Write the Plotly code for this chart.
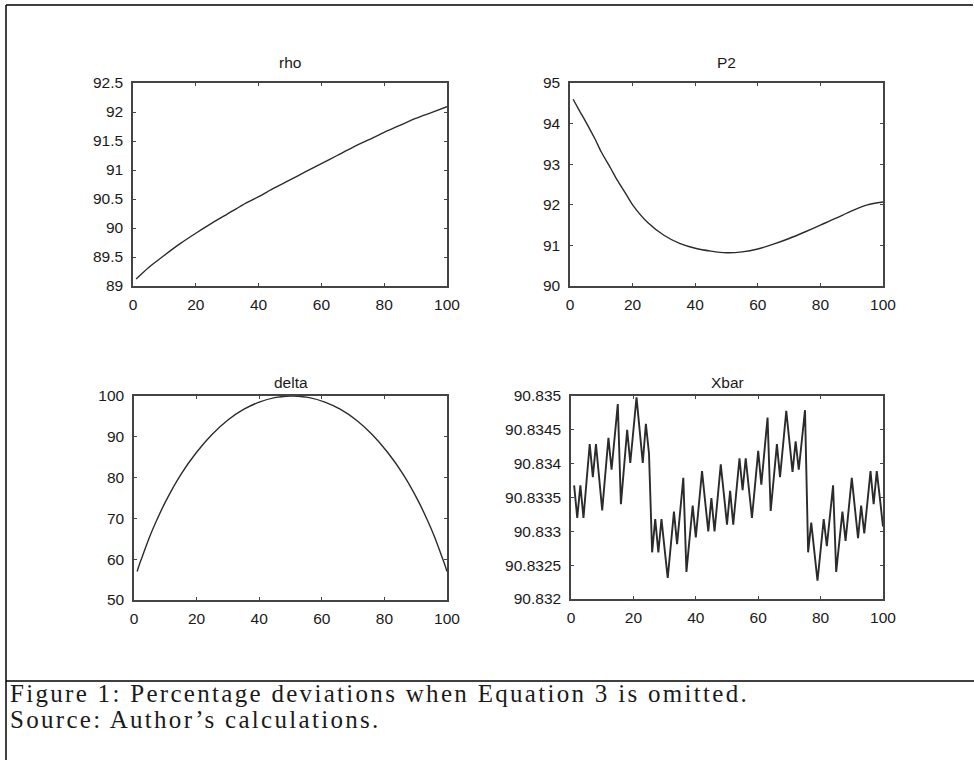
import plotly.graph_objects as go

W, H = 974, 760

# ---------------- data ----------------
rho_t = [1, 5, 10, 15, 20, 25, 30, 35, 40, 45, 50, 55, 60, 65, 70, 75, 80, 85, 90, 95, 100]
rho_v = [89.12, 89.32, 89.53, 89.73, 89.91, 90.08, 90.24, 90.40, 90.54, 90.69, 90.83,
         90.97, 91.11, 91.25, 91.39, 91.52, 91.65, 91.77, 91.89, 91.99, 92.09]

p2_t = [1, 3, 5, 8, 10, 13, 15, 18, 20, 25, 30, 35, 40, 45, 50, 55, 60, 65, 70, 75, 80, 85, 90, 95, 100]
p2_v = [94.60, 94.32, 94.05, 93.62, 93.30, 92.90, 92.62, 92.25, 92.00, 91.55, 91.25, 91.05,
        90.93, 90.86, 90.82, 90.84, 90.91, 91.03, 91.17, 91.33, 91.50, 91.67, 91.85, 92.00, 92.07]

delta_t = [1, 2, 3, 5, 7, 10, 15, 20, 25, 30, 35, 40, 45, 50, 51, 56, 61, 66, 71, 76, 81, 86,
           91, 94, 96, 98, 99, 100]
delta_v = [57.0, 59.3, 61.4, 65.5, 69.1, 74.0, 80.8, 86.2, 90.6, 94.1, 96.7, 98.5, 99.6, 100.0,
           100.0, 99.6, 98.5, 96.7, 94.1, 90.6, 86.2, 80.8, 74.0, 69.1, 65.5, 61.4, 59.3, 57.0]

xbar_t = list(range(1, 101))
xbar_v = [90.83368, 90.83320, 90.83368, 90.83320, 90.83375, 90.83429, 90.83380, 90.83429, 90.83380, 90.83331,
          90.83385, 90.83438, 90.83391, 90.83439, 90.83488, 90.83340, 90.83395, 90.83450, 90.83401, 90.83450,
          90.83498, 90.83450, 90.83401, 90.83459, 90.83415, 90.83269, 90.83318, 90.83269, 90.83318, 90.83274,
          90.83231, 90.83280, 90.83329, 90.83281, 90.83331, 90.83379, 90.83240, 90.83289, 90.83338, 90.83291,
          90.83340, 90.83389, 90.83344, 90.83300, 90.83349, 90.83300, 90.83349, 90.83399, 90.83355, 90.83310,
          90.83360, 90.83310, 90.83359, 90.83408, 90.83361, 90.83408, 90.83364, 90.83320, 90.83369, 90.83419,
          90.83369, 90.83419, 90.83468, 90.83330, 90.83380, 90.83429, 90.83380, 90.83429, 90.83478, 90.83433,
          90.83388, 90.83433, 90.83391, 90.83435, 90.83479, 90.83269, 90.83313, 90.83270, 90.83227, 90.83272,
          90.83318, 90.83278, 90.83324, 90.83368, 90.83240, 90.83284, 90.83329, 90.83286, 90.83333, 90.83379,
          90.83334, 90.83290, 90.83338, 90.83297, 90.83343, 90.83389, 90.83340, 90.83389, 90.83349, 90.83307]

x_ticks = [0, 20, 40, 60, 80, 100]
x_ticktext = ["0", "20", "40", "60", "80", "100"]

rho_ticks = [89, 89.5, 90, 90.5, 91, 91.5, 92, 92.5]
rho_ticktext = ["89", "89.5", "90", "90.5", "91", "91.5", "92", "92.5"]
p2_ticks = [90, 91, 92, 93, 94, 95]
p2_ticktext = ["90", "91", "92", "93", "94", "95"]
delta_ticks = [50, 60, 70, 80, 90, 100]
delta_ticktext = ["50", "60", "70", "80", "90", "100"]
xbar_ticks = [90.832, 90.8325, 90.833, 90.8335, 90.834, 90.8345, 90.835]
xbar_ticktext = ["90.832", "90.8325", "90.833", "90.8335", "90.834", "90.8345", "90.835"]

titles = ["rho", "P2", "delta", "Xbar"]
caption1 = "Figure 1: Percentage deviations when Equation 3 is omitted."
caption2 = "Source: Author\u2019s calculations."

# ---------------- layout helpers ----------------
def fx(p):
    return p / W


def fy(p):
    return 1 - p / H


# plot boxes in pixels: (left, right, top, bottom)
boxes = [(133, 447, 83, 286), (570, 883, 83, 286), (134, 447, 396, 600), (571, 883, 396, 599)]
series = [(rho_t, rho_v), (p2_t, p2_v), (delta_t, delta_v), (xbar_t, xbar_v)]
yranges = [[89, 92.5], [90, 95], [50, 100], [90.832, 90.835]]
yticks = [(rho_ticks, rho_ticktext), (p2_ticks, p2_ticktext), (delta_ticks, delta_ticktext),
          (xbar_ticks, xbar_ticktext)]
title_y = [62, 62, 383, 383]

LINE = "#2b2b2b"
AX = "#444444"
FONT = dict(family="Liberation Sans, Arial, sans-serif", size=15.5, color="#1a1a1a")

fig = go.Figure()
layout = dict(
    template="none",
    width=W, height=H,
    margin=dict(l=0, r=0, t=0, b=0, pad=0, autoexpand=False),
    paper_bgcolor="white", plot_bgcolor="white",
    showlegend=False,
    font=FONT,
)

annotations = []
for i in range(4):
    n = "" if i == 0 else str(i + 1)
    l, r, t, b = boxes[i]
    xs, ys = series[i]
    fig.add_trace(go.Scatter(
        x=xs, y=ys, mode="lines",
        line=dict(color=LINE, width=1.9 if i == 3 else 1.4,
                  shape="linear" if i == 3 else "spline", smoothing=0.8),
        xaxis="x" + n, yaxis="y" + n, hoverinfo="skip",
    ))
    common = dict(
        showline=True, linecolor=AX, linewidth=1.5, mirror="ticks",
        ticks="inside", ticklen=3, tickwidth=1, tickcolor=AX,
        showgrid=False, zeroline=False, tickfont=FONT, automargin=False,
    )
    layout["xaxis" + n] = dict(
        domain=[fx(l), fx(r)], range=[0, 100], anchor="y" + n,
        tickmode="array", tickvals=x_ticks, ticktext=x_ticktext,
        ticklabelstandoff=4, **common)
    layout["yaxis" + n] = dict(
        domain=[fy(b), fy(t)], range=yranges[i], anchor="x" + n,
        tickmode="array", tickvals=yticks[i][0], ticktext=yticks[i][1],
        ticklabelstandoff=5, **common)
    annotations.append(dict(
        text=titles[i], x=fx((l + r) / 2), y=fy(title_y[i]),
        xref="paper", yref="paper", xanchor="center", yanchor="middle",
        showarrow=False, font=FONT))

CAP = dict(family="Liberation Serif, Times New Roman, serif", size=25, color="#1a1a1a")
annotations.append(dict(
    text='<span style="letter-spacing:2.3px">' + caption1 + '</span>',
    x=fx(8), y=fy(693), xref="paper", yref="paper", xanchor="left", yanchor="middle",
    showarrow=False, font=CAP))
annotations.append(dict(
    text='<span style="letter-spacing:2.3px">' + caption2 + '</span>',
    x=fx(8), y=fy(719), xref="paper", yref="paper", xanchor="left", yanchor="middle",
    showarrow=False, font=CAP))
layout["annotations"] = annotations

border = dict(color="black", width=1.5)
layout["shapes"] = [
    dict(type="line", xref="paper", yref="paper", x0=fx(6), x1=fx(973), y0=fy(5), y1=fy(5), line=border),
    dict(type="line", xref="paper", yref="paper", x0=fx(6), x1=fx(6), y0=fy(5), y1=fy(760), line=border),
    dict(type="line", xref="paper", yref="paper", x0=fx(6), x1=fx(974), y0=fy(681), y1=fy(681), line=border),
]

fig.update_layout(**layout)
fig.write_html("out.html")
